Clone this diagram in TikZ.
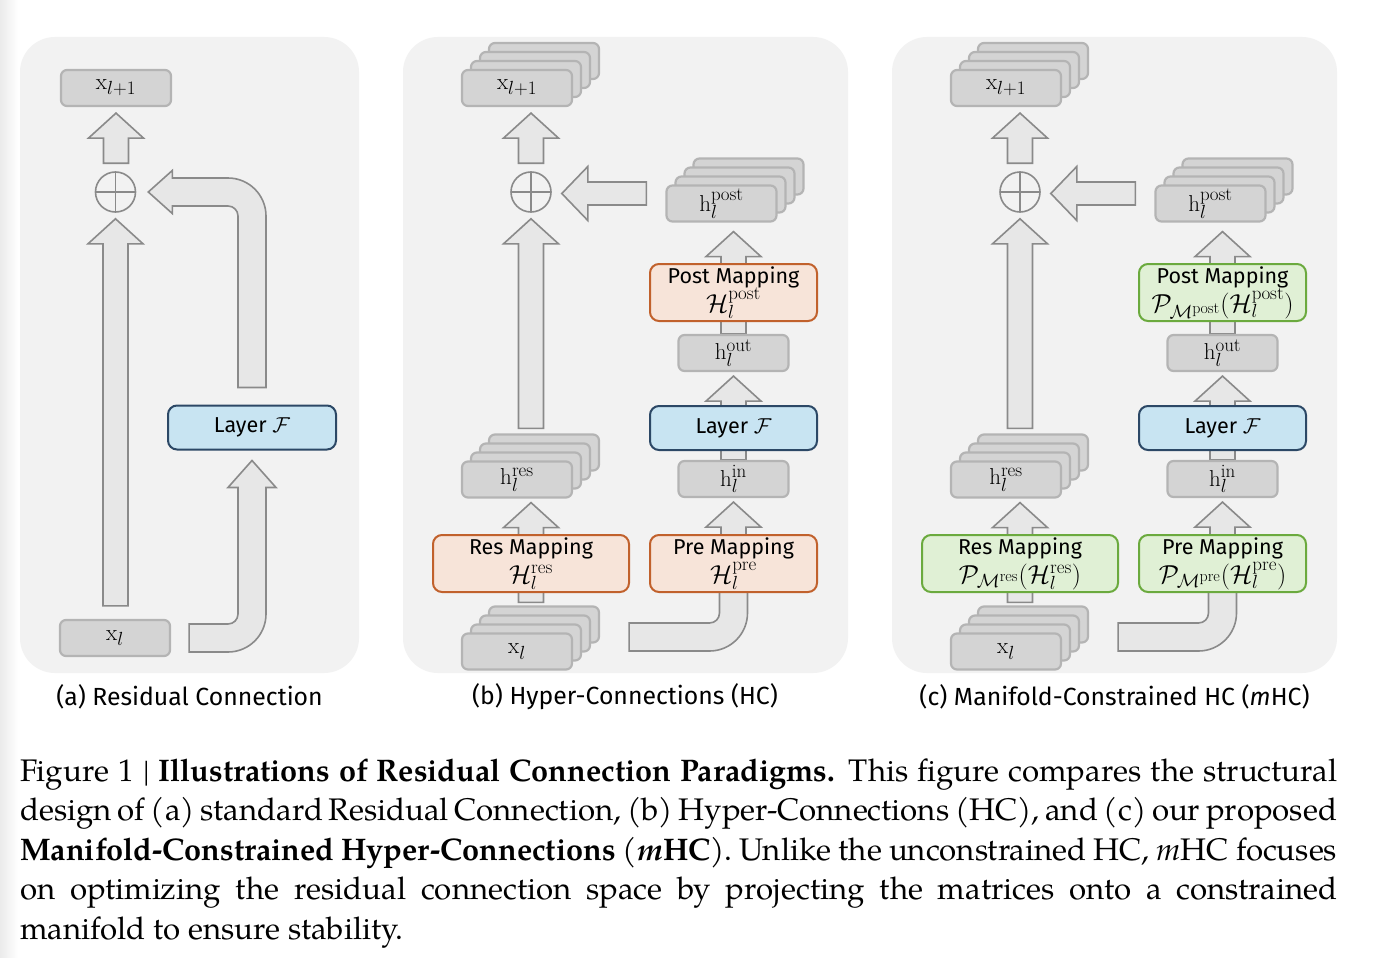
\RequirePackage{fix-cm}
\documentclass[tikz,border=0pt]{standalone}
\usepackage{fontspec}
\newfontfamily\boxfont{Fira Sans}
\newfontfamily\capfont{TeX Gyre Pagella}[BoldFeatures={FakeStretch=0.981}]
\usetikzlibrary{calc}
\DeclareMathSizes{23}{23}{19}{14}
\DeclareMathSizes{21.5}{26}{19}{16}
\newcommand\tightlines{\lineskiplimit=-20pt\relax}

\definecolor{panelbg}{HTML}{F2F2F2}
\definecolor{vecfill}{HTML}{D4D4D4}
\definecolor{vecline}{HTML}{B4B4B4}
\definecolor{arrfill}{HTML}{E7E7E7}
\definecolor{arrline}{HTML}{8A8A8A}
\definecolor{layfill}{HTML}{C8E4F2}
\definecolor{layline}{HTML}{2C4866}
\definecolor{mapfill}{HTML}{F7E4D9}
\definecolor{mapline}{HTML}{C1612C}
\definecolor{manfill}{HTML}{E0F0D5}
\definecolor{manline}{HTML}{6BAA3E}

\pgfdeclarelayer{bg}
\pgfdeclarelayer{arr}
\pgfsetlayers{bg,arr,main}

\tikzset{
  panel/.style={fill=panelbg, rounded corners=35pt},
  vec/.style={draw=vecline, fill=vecfill, line width=2.2pt, rounded corners=6pt,
    minimum width=110pt, minimum height=36pt, inner sep=0pt,
    font=\fontsize{23}{26}\selectfont},
  layer/.style={draw=layline, fill=layfill, line width=2pt, rounded corners=9pt,
    minimum width=167pt, minimum height=44pt, inner sep=0pt,
    font=\boxfont\fontsize{21.6}{25}\selectfont},
  mapbox/.style={draw=mapline, fill=mapfill, line width=2pt, rounded corners=9pt,
    minimum width=167pt, minimum height=57pt, inner sep=0pt, align=center,
    font=\boxfont\fontsize{21.5}{29}\selectfont\tightlines},
  manbox/.style={mapbox, draw=manline, fill=manfill},
  fatarr/.style={draw=arrline, fill=arrfill, line width=1.6pt},
  sumnode/.style={circle, draw=arrline, line width=1.6pt, minimum size=40pt, inner sep=0pt,
    path picture={\draw[arrline, line width=1.6pt]
      (path picture bounding box.north) -- (path picture bounding box.south)
      (path picture bounding box.west) -- (path picture bounding box.east);}},
  subcap/.style={font=\boxfont\fontsize{24.8}{28}\selectfont, inner sep=0pt},
  capt/.style={font=\capfont\fontsize{31.2}{39.5}\selectfont, inner sep=0pt}
}

% stack of four vectors, #1 name, #2 front box position, #3 label
\newcommand\vecstack[3]{%
  \node[vec] (#1-3) at ($(#2)+(27,27)$) {};
  \node[vec] (#1-2) at ($(#2)+(18,18)$) {};
  \node[vec] (#1-1) at ($(#2)+(9,9)$) {};
  \node[vec] (#1) at (#2) {#3};}

% fat arrow up, #1 tail, #2 tip
\newcommand\fatup[2]{%
  \draw[fatarr] let \p1=(#1), \p2=(#2) in
    (\x2-12.5pt,\y1) -- (\x2-12.5pt,\y2-25pt) -- (\x2-27.5pt,\y2-25pt)
    -- (\x2,\y2) -- (\x2+27.5pt,\y2-25pt) -- (\x2+12.5pt,\y2-25pt)
    -- (\x2+12.5pt,\y1) -- cycle;}

% fat arrow to the left
\newcommand\fatleft[2]{%
  \draw[fatarr] let \p1=(#1), \p2=(#2) in
    (\x1,\y2+11.5pt) -- (\x2+26pt,\y2+11.5pt) -- (\x2+26pt,\y2+27pt)
    -- (\x2,\y2) -- (\x2+26pt,\y2-27pt) -- (\x2+26pt,\y2-11.5pt)
    -- (\x1,\y2-11.5pt) -- cycle;}

% bent arrow, right then up
\newcommand\bendup[2]{%
  \draw[fatarr] let \p1=(#1), \p2=(#2) in
    (\x1,\y1+14pt) -- (\x2-24pt,\y1+14pt) arc[start angle=-90, end angle=0, radius=10pt]
    -- (\x2-14pt,\y2-27pt) -- (\x2-24pt,\y2-27pt) -- (\x2,\y2) -- (\x2+24pt,\y2-27pt)
    -- (\x2+14pt,\y2-27pt) -- (\x2+14pt,\y1+24pt) arc[start angle=0, end angle=-90, radius=38pt]
    -- (\x1,\y1-14pt) -- cycle;}

% bent shaft, right then up, no head
\newcommand\bendinto[2]{%
  \draw[fatarr] let \p1=(#1), \p2=(#2) in
    (\x1,\y1+14pt) -- (\x2-24pt,\y1+14pt) arc[start angle=-90, end angle=0, radius=10pt]
    -- (\x2-14pt,\y2) -- (\x2+14pt,\y2)
    -- (\x2+14pt,\y1+24pt) arc[start angle=0, end angle=-90, radius=38pt]
    -- (\x1,\y1-14pt) -- cycle;}

% bent arrow, up then left
\newcommand\bendleft[2]{%
  \draw[fatarr] let \p1=(#1), \p2=(#2) in
    (\x1-14pt,\y1) -- (\x1-14pt,\y2-24pt) arc[start angle=0, end angle=90, radius=10pt]
    -- (\x2+24pt,\y2-14pt) -- (\x2+24pt,\y2-21.5pt) -- (\x2,\y2) -- (\x2+24pt,\y2+21.5pt)
    -- (\x2+24pt,\y2+14pt) -- (\x1-24pt,\y2+14pt) arc[start angle=90, end angle=0, radius=38pt]
    -- (\x1+14pt,\y1) -- cycle;}

\begin{document}
\begin{tikzpicture}[x=1pt, y=1pt]
    % 1. Panels
    \begin{pgfonlayer}{bg}
    \fill[white] (0,0) rectangle (1382,-958);
    \shade[left color=black!8, right color=white] (0,0) rectangle (18,-958);
    \fill[panel] (20,-37) rectangle (359,-673);
    \fill[panel] (403,-37) rectangle (848,-673);
    \fill[panel] (892,-37) rectangle (1337,-673);
    \end{pgfonlayer}

    % 2. (a) Residual Connection
    \node[vec] (a-x1) at (116,-88) {$\mathrm{x}_{l+1}$};
    \node[sumnode] (a-sum) at (115.5,-192) {};
    \node[layer, minimum width=168pt] (a-layer) at (252,-427.5) {Layer $\mathcal{F}$};
    \node[vec] (a-xl) at (115,-638) {$\mathrm{x}_l$};
    \node[subcap] (a-cap) at (189.5,-697) {(a) Residual Connection};
    \begin{pgfonlayer}{arr}
    \fatup{$(a-sum.north)+(0,8)$}{$(a-x1.south)+(0,-6)$}
    \fatup{$(a-xl.north)+(0,13)$}{$(a-sum.south)+(0,-6)$}
    \bendleft{$(a-layer.north)+(0,17)$}{$(a-sum.east)+(12,0)$}
    \bendup{$(a-xl.east)+(18,0)$}{$(a-layer.south)+(0,-10)$}
    \end{pgfonlayer}

    % 3. (b) Hyper-Connections
    \vecstack{b-x1}{517,-88}{$\mathrm{x}_{l+1}$}
    \node[sumnode] (b-sum) at (531,-192) {};
    \vecstack{b-hpost}{721.5,-203.5}{$\mathrm{h}_l^{\mathrm{post}}$}
    \node[mapbox] (b-post) at (733.5,-292.5) {Post Mapping\\$\mathcal{H}_l^{\mathrm{post}}$};
    \node[vec] (b-hout) at (733.5,-353) {$\mathrm{h}_l^{\mathrm{out}}$};
    \node[layer] (b-layer) at (733.5,-428) {Layer $\mathcal{F}$};
    \node[vec] (b-hin) at (733.5,-479) {$\mathrm{h}_l^{\mathrm{in}}$};
    \node[mapbox] (b-pre) at (733.5,-563.5) {Pre Mapping\\$\mathcal{H}_l^{\mathrm{pre}}$};
    \vecstack{b-hres}{517,-479.5}{$\mathrm{h}_l^{\mathrm{res}}$}
    \node[mapbox, minimum width=196pt] (b-res) at (531,-563.5) {Res Mapping\\$\mathcal{H}_l^{\mathrm{res}}$};
    \vecstack{b-xl}{517,-651.5}{$\mathrm{x}_l$}
    \node[subcap] (b-cap) at (625,-697) {(b) Hyper-Connections (HC)};
    \begin{pgfonlayer}{arr}
    \fatup{$(b-sum.north)+(0,8)$}{$(b-x1.south -| b-sum)+(0,-6)$}
    \fatup{$(b-hres-3.north)+(0,5)$}{$(b-sum.south)+(0,-6)$}
    \fatleft{$(b-hpost.west)+(-19,0)$}{$(b-sum.east)+(10,-1.5)$}
    \fatup{b-post.center}{$(b-hpost.south -| b-post)+(0,-9)$}
    \fatup{b-hout.north}{b-post.center}
    \fatup{b-layer.center}{$(b-hout.south)+(0,-4)$}
    \fatup{b-hin.north}{$(b-layer.center)+(0,5)$}
    \fatup{b-pre.center}{$(b-hin.south)+(0,-4)$}
    \fatup{b-res.center}{$(b-hres.south -| b-res)+(0,-4)$}
    \fatup{$(b-xl-3.north)+(0,3)$}{$(b-res.center)+(0,5)$}
    \bendinto{$(b-xl.east)+(56,14.5)$}{b-pre.center}
    \end{pgfonlayer}

    % 4. (c) Manifold-Constrained HC
    \vecstack{c-x1}{1006,-88}{$\mathrm{x}_{l+1}$}
    \node[sumnode] (c-sum) at (1020,-192) {};
    \vecstack{c-hpost}{1210.5,-203.5}{$\mathrm{h}_l^{\mathrm{post}}$}
    \node[manbox] (c-post) at (1222.5,-292.5) {Post Mapping\\$\mathcal{P}_{\mathcal{M}^{\mathrm{post}}}(\mathcal{H}_l^{\mathrm{post}})$};
    \node[vec] (c-hout) at (1222.5,-353) {$\mathrm{h}_l^{\mathrm{out}}$};
    \node[layer] (c-layer) at (1222.5,-428) {Layer $\mathcal{F}$};
    \node[vec] (c-hin) at (1222.5,-479) {$\mathrm{h}_l^{\mathrm{in}}$};
    \node[manbox] (c-pre) at (1222.5,-563.5) {Pre Mapping\\$\mathcal{P}_{\mathcal{M}^{\mathrm{pre}}}(\mathcal{H}_l^{\mathrm{pre}})$};
    \vecstack{c-hres}{1006,-479.5}{$\mathrm{h}_l^{\mathrm{res}}$}
    \node[manbox, minimum width=196pt] (c-res) at (1020,-563.5) {Res Mapping\\$\mathcal{P}_{\mathcal{M}^{\mathrm{res}}}(\mathcal{H}_l^{\mathrm{res}})$};
    \vecstack{c-xl}{1006,-651.5}{$\mathrm{x}_l$}
    \node[subcap] (c-cap) at (1114.5,-697) {(c) Manifold-Constrained HC (\textit{m}HC)};
    \begin{pgfonlayer}{arr}
    \fatup{$(c-sum.north)+(0,8)$}{$(c-x1.south -| c-sum)+(0,-6)$}
    \fatup{$(c-hres-3.north)+(0,5)$}{$(c-sum.south)+(0,-6)$}
    \fatleft{$(c-hpost.west)+(-19,0)$}{$(c-sum.east)+(10,-1.5)$}
    \fatup{c-post.center}{$(c-hpost.south -| c-post)+(0,-9)$}
    \fatup{c-hout.north}{c-post.center}
    \fatup{c-layer.center}{$(c-hout.south)+(0,-4)$}
    \fatup{c-hin.north}{$(c-layer.center)+(0,5)$}
    \fatup{c-pre.center}{$(c-hin.south)+(0,-4)$}
    \fatup{c-res.center}{$(c-hres.south -| c-res)+(0,-4)$}
    \fatup{$(c-xl-3.north)+(0,3)$}{$(c-res.center)+(0,5)$}
    \bendinto{$(c-xl.east)+(56,14.5)$}{c-pre.center}
    \end{pgfonlayer}

    % 5. Figure caption
    \node[capt, anchor=base west] (fig-cap) at (20,-781) {\vtop{\hsize=1317pt
      \hbox to\hsize{Figure 1 | \textbf{Illustrations of Residual Connection Paradigms.} This figure compares the structural}
      \hbox to\hsize{design of (a) standard Residual Connection, (b) Hyper-Connections (HC), and (c) our proposed}
      \hbox to\hsize{\textbf{Manifold-Constrained Hyper-Connections} (\textbf{\textit{m}HC}). Unlike the unconstrained HC, \textit{m}HC focuses}
      \hbox to\hsize{on optimizing the residual connection space by projecting the matrices onto a constrained}
      \hbox{manifold to ensure stability.}}};
\end{tikzpicture}
\end{document}
